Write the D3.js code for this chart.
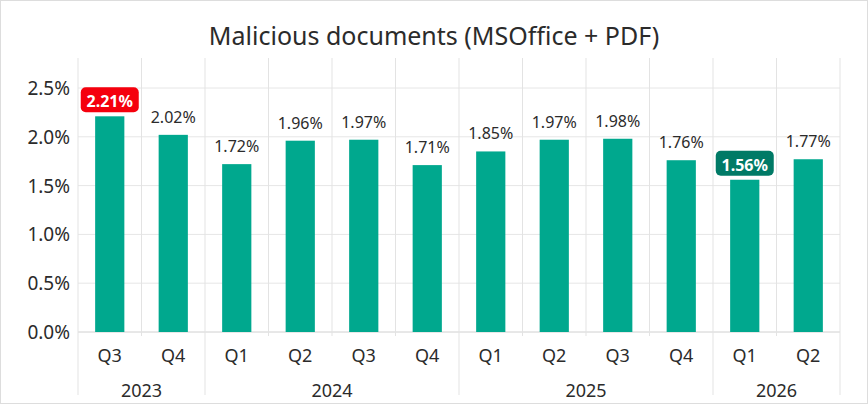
<!DOCTYPE html><html><head><meta charset="utf-8"><script src="https://cdn.jsdelivr.net/npm/d3@7"></script>
<style>body{margin:0;background:#fff}text{font-family:"Noto Sans",sans-serif;fill:#2b2b2b}</style></head><body><svg id="c" width="868" height="404"></svg><script>
const quarters=["Q3","Q4","Q1","Q2","Q3","Q4","Q1","Q2","Q3","Q4","Q1","Q2"];
const years=["2023","2023","2024","2024","2024","2024","2025","2025","2025","2025","2026","2026"];
const values=[2.21,2.02,1.72,1.96,1.97,1.71,1.85,1.97,1.98,1.76,1.56,1.77];
const highlight=["max",null,null,null,null,null,null,null,null,null,"min",null];
const yTicks=[0,0.5,1,1.5,2,2.5];
const svg=d3.select("#c");
svg.append("rect").attr("x",0.5).attr("y",0.5).attr("width",867).attr("height",403).attr("fill","none").attr("stroke","#ddd");
const L=78,R=840,T=88,B=332;
const x=d3.scaleBand().domain(d3.range(12)).range([L,R]).paddingInner(0.54).paddingOuter(0.27);
const y=d3.scaleLinear().domain([0,2.5]).range([B,T]);
const step=(R-L)/12;
svg.append("text").attr("x",434).attr("y",45).attr("text-anchor","middle").attr("font-size",25).text("Malicious documents (MSOffice + PDF)");
const g=svg.append("g");
yTicks.forEach(t=>{g.append("line").attr("x1",L).attr("x2",R).attr("y1",y(t)).attr("y2",y(t)).attr("stroke",t===0?"#d0d0d0":"#e6e6e6");
 g.append("text").attr("x",L-8).attr("y",y(t)+7).attr("text-anchor","end").attr("font-size",19).text(t.toFixed(1)+"%");});
for(let i=0;i<=12;i++){const xx=L+i*step;const yb=(i===0||i===12||years[i]!==years[i-1])?395:(B+4);
 g.append("line").attr("x1",xx).attr("x2",xx).attr("y1",T-30).attr("y2",yb).attr("stroke","#e3e3e3");}
values.forEach((v,i)=>{const cx=x(i)+x.bandwidth()/2;
 g.append("rect").attr("x",x(i)).attr("y",y(v)).attr("width",x.bandwidth()).attr("height",B-y(v)).attr("fill","#00a88e");
 const ty=y(v)-12;const lab=v.toFixed(2)+"%";
 if(highlight[i]){g.append("rect").attr("x",cx-29).attr("y",ty-17).attr("width",58).attr("height",25).attr("rx",5).attr("fill",highlight[i]==="max"?"#f5000d":"#007a66");
  g.append("text").attr("x",cx).attr("y",ty+3).attr("text-anchor","middle").attr("font-size",16).attr("font-weight","bold").style("fill","#fff").text(lab);}
 else g.append("text").attr("x",cx).attr("y",ty).attr("text-anchor","middle").attr("font-size",16).text(lab);
 g.append("text").attr("x",cx).attr("y",362).attr("text-anchor","middle").attr("font-size",18).text(quarters[i]);});
const yrs=[...new Set(years)];
yrs.forEach(yr=>{const idx=years.map((d,i)=>d===yr?i:-1).filter(i=>i>=0);
 const cx=L+(idx[0]+idx[idx.length-1]+1)/2*step;
 g.append("text").attr("x",cx).attr("y",397).attr("text-anchor","middle").attr("font-size",18).text(yr);});
</script></body></html>
